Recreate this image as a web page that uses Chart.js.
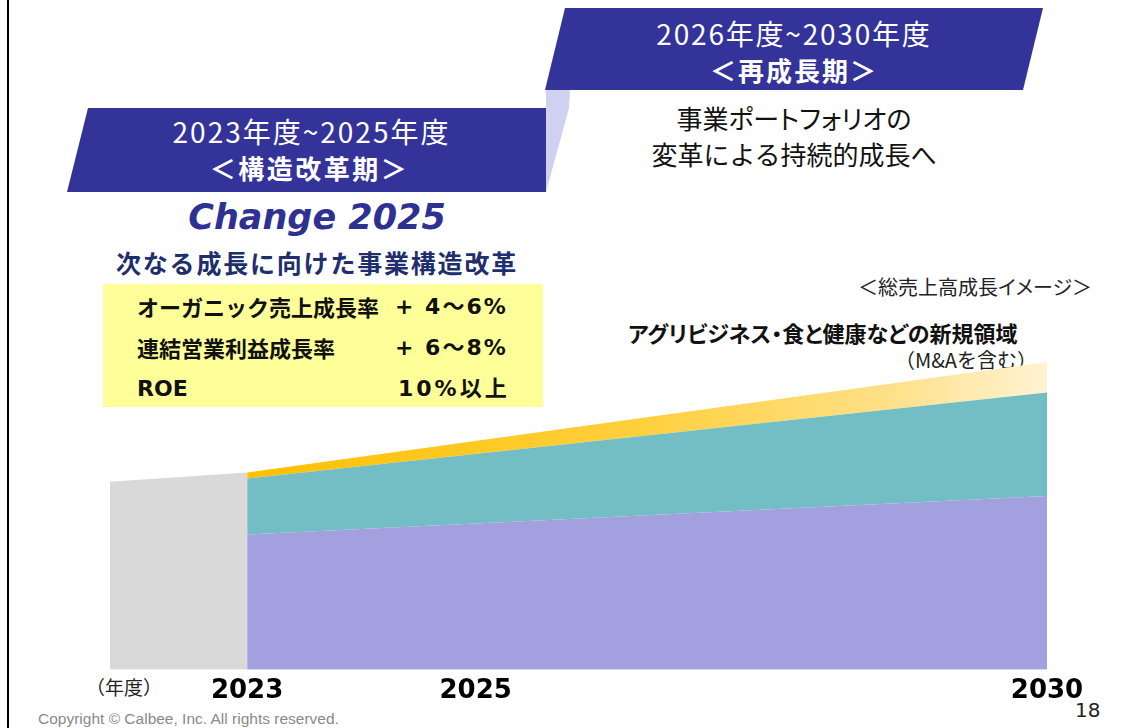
<!DOCTYPE html>
<html lang="ja">
<head>
<meta charset="UTF-8">
<title>総売上高成長イメージ</title>
<script src="https://cdn.jsdelivr.net/npm/chart.js@4.4.0/dist/chart.umd.min.js"></script>
<style>
  html, body { margin: 0; padding: 0; background: #fff; }
  body { width: 1122px; height: 728px; position: relative; overflow: hidden;
         font-family: "Noto Sans CJK JP", "Noto Sans", sans-serif; }
  #chart { position: absolute; left: 0; top: 0; }
  .t { position: absolute; white-space: nowrap; line-height: 1; }
  .c { text-align: center; }
  .b { font-weight: bold; }
  .p { font-feature-settings: "palt"; }
  .num { font-family: "DejaVu Sans", "Noto Sans CJK JP", sans-serif; letter-spacing: 2px; }
  .edge { position: absolute; left: 7px; top: 0; width: 2px; height: 728px; background: #000; }
</style>
</head>
<body>
<div class="edge"></div>

<!-- period banners -->
<svg width="1122" height="728" style="position:absolute;left:0;top:0">
  <polygon points="546,90 570,90 569,108 546,192" fill="#D0D1F0"/>
  <polygon points="88,108 546,108 546,192 67,192" fill="#333399"/>
  <polygon points="565,8 1043,8 1023,90 545,90" fill="#333399"/>
</svg>

<div class="t c" style="left:72px;width:479px;top:117px;font-size:28px;letter-spacing:2px;color:#fff">2023年度~2025年度</div>
<div class="t c b" style="left:70px;width:479px;top:155px;font-size:26px;letter-spacing:2.5px;color:#fff">＜構造改革期＞</div>
<div class="t c" style="left:545px;width:498px;top:19px;font-size:28px;letter-spacing:1.8px;color:#fff">2026年度~2030年度</div>
<div class="t c b" style="left:545px;width:498px;top:57px;font-size:26px;letter-spacing:2px;color:#fff">＜再成長期＞</div>

<div class="t c p" style="left:545px;width:498px;top:105px;font-size:26px;color:#111">事業ポートフォリオの</div>
<div class="t c" style="left:545px;width:498px;top:141px;font-size:26px;color:#111">変革による持続的成長へ</div>

<div class="t c b" style="left:67px;width:500px;top:200px;font-size:35px;font-style:italic;color:#2E3192;font-family:'DejaVu Sans',sans-serif">Change 2025</div>
<div class="t c b" style="left:67px;width:500px;top:250px;font-size:25px;letter-spacing:1.8px;color:#1F2F6E">次なる成長に向けた事業構造改革</div>

<div style="position:absolute;left:103px;top:284px;width:440px;height:123px;background:#FFFF99"></div>
<div class="t b" style="left:137px;top:295px;font-size:22px;color:#111">オーガニック売上成長率</div>
<div class="t b" style="left:137px;top:336px;font-size:22px;color:#111">連結営業利益成長率</div>
<div class="t b" style="left:137px;top:378px;font-size:22px;color:#111;font-family:'DejaVu Sans',sans-serif">ROE</div>
<div class="t b num" style="left:395px;top:296px;font-size:22px;color:#111">+ 4～6%</div>
<div class="t b num" style="left:395px;top:337px;font-size:22px;color:#111">+ 6～8%</div>
<div class="t b num" style="left:398px;top:378px;font-size:22px;letter-spacing:3px;color:#111">10%以上</div>

<div class="t p" style="left:858px;top:277px;font-size:20px;color:#222">＜総売上高成長イメージ＞</div>
<div class="t b p" style="left:628px;top:321px;font-size:22px;color:#111">アグリビジネス・食と健康などの新規領域</div>
<div class="t" style="left:895px;top:350px;font-size:20px;color:#222">（M&amp;Aを含む）</div>
<div class="t b" style="left:940px;top:434px;font-size:24px;color:#111">海外事業</div>
<div class="t b" style="left:900px;top:566px;font-size:23px;color:#111">国内コア事業</div>

<div class="t" style="left:86px;top:677px;font-size:19px;color:#222">（年度）</div>
<div class="t" style="left:38px;top:711px;font-size:15.5px;color:#8a8a8a;font-family:'Liberation Sans',Arial,sans-serif">Copyright © Calbee, Inc. All rights reserved.</div>
<div class="t" style="left:1075px;top:700px;font-size:20px;color:#222;font-family:'DejaVu Sans',sans-serif">18</div>

<canvas id="chart" width="1122" height="728"></canvas>

<script>
// years (x) and sales index (arbitrary units, schematic)
const preYears = [2021.8, 2023];
const preTotal = [57, 59.8];

const years = [2023, 2030];
const domesticCore = [41, 52.7];
const overseas = [17, 31.4];
const newDomains = [1.8, 9.2];

const tickYears = [2023, 2025, 2030];

const toPoints = (xs, ys) => xs.map((x, i) => ({ x: x, y: ys[i] }));

function goldFill(context) {
    const chart = context.chart;
    if (!chart.chartArea) return '#FFC000';
    const xs = chart.scales.x;
    const g = chart.ctx.createLinearGradient(xs.getPixelForValue(years[0]), 0, xs.getPixelForValue(years[1]), 0);
    g.addColorStop(0, '#FFC000');
    g.addColorStop(0.5, '#FFD03F');
    g.addColorStop(0.8, '#FFE088');
    g.addColorStop(1, '#FFF3D2');
    return g;
}

const ctx = document.getElementById('chart').getContext('2d');
new Chart(ctx, {
    type: 'line',
    data: {
        datasets: [
            {
                label: '2022年度以前',
                data: toPoints(preYears, preTotal),
                backgroundColor: '#D9D9D9',
                fill: 'origin',
                stack: 'pre'
            },
            {
                label: '国内コア事業',
                data: toPoints(years, domesticCore),
                backgroundColor: '#A3A0E0',
                fill: 'origin',
                stack: 'main'
            },
            {
                label: '海外事業',
                data: toPoints(years, overseas),
                backgroundColor: '#73BDC4',
                fill: '-1',
                stack: 'main'
            },
            {
                label: 'アグリビジネス・食と健康などの新規領域',
                data: toPoints(years, newDomains),
                backgroundColor: goldFill,
                fill: '-1',
                stack: 'main'
            }
        ]
    },
    options: {
        responsive: false,
        animation: false,
        layout: { padding: { left: 110, right: 75, top: 340, bottom: 15 } },
        elements: {
            line: { borderWidth: 0, tension: 0 },
            point: { radius: 0, hoverRadius: 0 }
        },
        plugins: {
            legend: { display: false },
            tooltip: { enabled: false }
        },
        scales: {
            x: {
                type: 'linear',
                min: preYears[0],
                max: years[1],
                grid: { display: false, drawTicks: false },
                border: { display: false },
                afterBuildTicks: (scale) => {
                    scale.ticks = tickYears.map(v => ({ value: v }));
                },
                ticks: {
                    padding: 6,
                    color: '#000',
                    autoSkip: false,
                    maxRotation: 0,
                    font: { family: 'DejaVu Sans', size: 26, weight: 'bold' },
                    callback: (v) => String(v)
                }
            },
            y: {
                display: false,
                stacked: true,
                min: 0,
                max: 100
            }
        }
    }
});
</script>
</body>
</html>
